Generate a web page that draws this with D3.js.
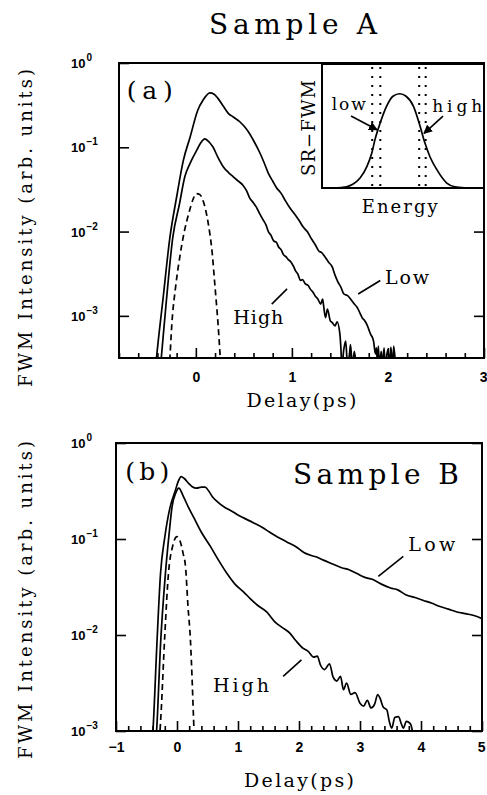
<!DOCTYPE html>
<html>
<head>
<meta charset="utf-8">
<script src="https://cdnjs.cloudflare.com/ajax/libs/d3/7.8.5/d3.min.js"></script>
<style>
  body { margin: 0; background: #fff; }
  svg { display: block; }
  .serif { font-family: "DejaVu Serif", "Liberation Serif", serif; fill: #000; }
  .sans { font-family: "Liberation Sans", Arial, sans-serif; fill: #000; font-weight: bold; }
</style>
</head>
<body>
<div id="root"></div>
<script>
// values: [delay (ps), log10 of FWM intensity]
const lowA = [[-0.45,-4.0],[-0.41,-3.5],[-0.34,-2.78],[-0.27,-2.07],[-0.20,-1.59],[-0.13,-1.155],[-0.06,-0.88],[0.02,-0.56],[0.076,-0.44],[0.146,-0.354],[0.19,-0.37],[0.23,-0.42],[0.29,-0.52],[0.34,-0.60],[0.39,-0.64],[0.46,-0.70],[0.51,-0.76],[0.56,-0.84],[0.61,-0.94],[0.66,-1.05],[0.71,-1.18],[0.755,-1.31],[0.80,-1.40],[0.84,-1.48],[0.89,-1.55],[0.93,-1.63],[0.98,-1.72],[1.02,-1.78],[1.07,-1.86],[1.12,-1.95],[1.16,-2.00],[1.20,-2.08],[1.24,-2.15],[1.28,-2.23],[1.31,-2.25],[1.35,-2.31],[1.38,-2.36],[1.42,-2.42],[1.45,-2.52],[1.48,-2.60],[1.51,-2.66],[1.54,-2.74],[1.58,-2.76],[1.61,-2.80],[1.65,-2.86],[1.68,-2.90],[1.71,-2.97],[1.73,-3.02],[1.76,-3.06],[1.78,-3.10],[1.80,-3.16],[1.82,-3.22],[1.84,-3.26],[1.85,-3.30],[1.87,-3.45],[1.88,-3.38],[1.89,-3.55],[1.90,-3.36],[1.91,-3.6],[1.93,-3.42],[1.94,-3.6],[1.96,-3.38],[1.97,-3.6],[1.99,-3.45],[2.00,-3.40],[2.02,-3.6],[2.03,-3.37],[2.05,-3.6],[2.06,-3.36],[2.08,-3.6]];
const highA = [[-0.40,-4.0],[-0.36,-3.5],[-0.31,-2.86],[-0.24,-2.07],[-0.17,-1.67],[-0.115,-1.35],[-0.06,-1.19],[0.007,-1.04],[0.05,-0.95],[0.094,-0.90],[0.14,-0.94],[0.18,-1.0],[0.23,-1.12],[0.285,-1.23],[0.34,-1.30],[0.39,-1.35],[0.44,-1.40],[0.49,-1.45],[0.53,-1.52],[0.56,-1.60],[0.60,-1.66],[0.63,-1.71],[0.67,-1.80],[0.70,-1.86],[0.73,-1.92],[0.755,-2.0],[0.78,-2.04],[0.81,-2.11],[0.84,-2.13],[0.86,-2.18],[0.89,-2.22],[0.91,-2.27],[0.94,-2.30],[0.96,-2.33],[0.99,-2.36],[1.02,-2.42],[1.04,-2.47],[1.06,-2.50],[1.09,-2.58],[1.11,-2.57],[1.14,-2.62],[1.17,-2.64],[1.19,-2.68],[1.22,-2.72],[1.24,-2.76],[1.27,-2.80],[1.30,-2.86],[1.32,-2.80],[1.33,-2.88],[1.35,-3.02],[1.37,-2.92],[1.40,-3.06],[1.42,-3.08],[1.45,-3.12],[1.47,-3.07],[1.50,-3.22],[1.51,-3.38],[1.52,-3.6],[1.54,-3.40],[1.56,-3.30],[1.58,-3.6],[1.60,-3.45],[1.61,-3.34],[1.63,-3.6],[1.65,-3.42],[1.67,-3.6]];
const pulseA = [[-0.30,-4.0],[-0.27,-3.5],[-0.25,-3.1],[-0.21,-2.65],[-0.167,-2.3],[-0.12,-2.0],[-0.07,-1.77],[-0.03,-1.62],[0.007,-1.55],[0.04,-1.56],[0.08,-1.65],[0.13,-1.91],[0.17,-2.25],[0.20,-2.66],[0.23,-3.08],[0.25,-3.42],[0.27,-3.8]];

const lowB = [[-0.43,-3.3],[-0.39,-2.95],[-0.33,-2.1],[-0.27,-1.36],[-0.2,-0.98],[-0.11,-0.66],[-0.03,-0.5],[0.02,-0.40],[0.07,-0.35],[0.12,-0.37],[0.19,-0.42],[0.25,-0.455],[0.32,-0.47],[0.40,-0.46],[0.46,-0.46],[0.52,-0.50],[0.58,-0.56],[0.66,-0.61],[0.78,-0.67],[0.90,-0.71],[1.0,-0.75],[1.09,-0.78],[1.25,-0.83],[1.40,-0.88],[1.52,-0.93],[1.64,-0.976],[1.80,-1.03],[1.95,-1.08],[2.08,-1.14],[2.19,-1.17],[2.30,-1.19],[2.40,-1.22],[2.55,-1.26],[2.70,-1.30],[2.82,-1.32],[2.95,-1.36],[3.08,-1.40],[3.20,-1.42],[3.35,-1.47],[3.50,-1.51],[3.62,-1.53],[3.75,-1.58],[3.90,-1.61],[4.04,-1.64],[4.18,-1.67],[4.30,-1.70],[4.45,-1.73],[4.59,-1.76],[4.75,-1.78],[4.88,-1.80],[5.0,-1.83]];
const highB = [[-0.37,-3.3],[-0.33,-2.95],[-0.27,-2.1],[-0.19,-1.36],[-0.13,-0.95],[-0.08,-0.66],[-0.02,-0.52],[0.03,-0.47],[0.10,-0.55],[0.18,-0.66],[0.27,-0.77],[0.40,-0.93],[0.55,-1.08],[0.68,-1.22],[0.82,-1.36],[0.95,-1.47],[1.09,-1.55],[1.20,-1.62],[1.32,-1.69],[1.47,-1.76],[1.60,-1.86],[1.72,-1.92],[1.85,-1.98],[1.95,-2.06],[2.07,-2.14],[2.15,-2.17],[2.24,-2.23],[2.30,-2.22],[2.35,-2.31],[2.42,-2.36],[2.50,-2.30],[2.56,-2.44],[2.62,-2.48],[2.68,-2.43],[2.73,-2.57],[2.78,-2.50],[2.85,-2.62],[2.92,-2.60],[3.00,-2.71],[3.06,-2.74],[3.12,-2.68],[3.18,-2.76],[3.24,-2.72],[3.29,-2.62],[3.33,-2.66],[3.38,-2.75],[3.44,-2.78],[3.48,-2.90],[3.52,-2.97],[3.57,-2.86],[3.63,-2.85],[3.68,-2.93],[3.71,-2.97],[3.76,-2.90],[3.82,-2.92],[3.87,-3.05],[3.90,-3.3]];
const pulseB = [[-0.31,-3.3],[-0.26,-2.8],[-0.20,-2.0],[-0.14,-1.36],[-0.07,-1.07],[0.0,-0.976],[0.05,-1.02],[0.10,-1.15],[0.14,-1.29],[0.18,-1.7],[0.22,-2.05],[0.25,-2.5],[0.27,-2.85],[0.30,-3.3]];

// inset: [energy (arb.), SR-FWM signal (arb.)]
const insetSpectrum = [[0,0],[8,0],[12,0.004],[15.2,0.01],[19,0.03],[23.5,0.08],[27.6,0.17],[30.7,0.28],[32.7,0.39],[35.8,0.52],[39.9,0.66],[43.8,0.74],[48,0.76],[51.9,0.74],[56.4,0.66],[60.5,0.50],[63.6,0.36],[66.7,0.25],[70.8,0.15],[77,0.04],[82,0.01],[88,0.002],[94,0],[100,0]];
const insetWindows = [31, 36, 60, 64];

const yTickExps = [0, -1, -2, -3];
const xTicksA = [0, 1, 2, 3];
const xTicksB = [-1, 0, 1, 2, 3, 4, 5];

const W = 487, H = 795;
const svg = d3.select('#root').append('svg').attr('width', W).attr('height', H);

// serif text with a fixed width, like the plotter lettering of the original
function label(sel, x, y, str, size, len, anchor) {
  return sel.append('text').attr('class', 'serif')
    .attr('x', x).attr('y', y)
    .attr('text-anchor', anchor || 'start')
    .attr('textLength', len).attr('lengthAdjust', 'spacing')
    .style('font-size', size + 'px')
    .text(str);
}

function drawPanel(p) {
  const x = d3.scaleLinear().domain(p.xDomain).range([p.left, p.right]);
  const y = d3.scaleLog().domain(p.yDomain).range([p.bottom, p.top]);
  const g = svg.append('g');

  g.append('clipPath').attr('id', 'clip-' + p.id)
    .append('rect')
    .attr('x', p.left).attr('y', p.top)
    .attr('width', p.right - p.left).attr('height', p.bottom - p.top);

  const line = d3.line()
    .x(d => x(d[0]))
    .y(d => y(Math.pow(10, d[1])))
    .curve(d3.curveMonotoneX);

  p.series.forEach(s => {
    g.append('path')
      .datum(s.data)
      .attr('clip-path', `url(#clip-${p.id})`)
      .attr('fill', 'none')
      .attr('stroke', '#000')
      .attr('stroke-width', 1.7)
      .attr('stroke-linejoin', 'round')
      .attr('stroke-dasharray', s.dashed ? '6,4' : null)
      .attr('d', line);
  });

  // ticks (pointing inwards)
  const minor = d3.range(p.xDomain[0], p.xDomain[1] + 0.001, 0.2).filter(v => Math.abs(v - Math.round(v)) > 0.01);
  g.append('g')
    .attr('transform', `translate(0,${p.bottom})`)
    .call(d3.axisBottom(x).tickValues(minor).tickSize(-5).tickFormat(''))
    .call(a => a.select('.domain').remove());
  const xa = g.append('g')
    .attr('transform', `translate(0,${p.bottom})`)
    .call(d3.axisBottom(x).tickValues(p.xTicks).tickSize(-10).tickPadding(p.xPad)
      .tickFormat(d => d < 0 ? '\u2212' + Math.abs(d) : d))
    .call(a => a.select('.domain').remove())
    .attr('font-family', '"Liberation Sans", Arial, sans-serif')
    .attr('font-weight', 'bold')
    .attr('font-size', 14);
  // keep the last label inside the page
  xa.selectAll('.tick text').filter(d => x(d) > W - 6)
    .attr('text-anchor', 'end').attr('x', 3);

  const yTicks = yTickExps.map(e => Math.pow(10, e)).filter(v => v >= p.yDomain[0]);
  g.append('g')
    .attr('transform', `translate(${p.left},0)`)
    .call(d3.axisLeft(y).tickValues(yTicks).tickSize(-10).tickFormat(''))
    .call(a => a.select('.domain').remove());
  g.append('g')
    .attr('transform', `translate(${p.right},0)`)
    .call(d3.axisRight(y).tickValues(yTicks).tickSize(-10).tickFormat(''))
    .call(a => a.select('.domain').remove());
  g.selectAll('.tick line').attr('stroke-width', 1.6);

  // 10^n labels
  yTickExps.filter(e => Math.pow(10, e) >= p.yDomain[0]).forEach(e => {
    const t = g.append('text').attr('class', 'sans')
      .attr('x', 71).attr('y', y(Math.pow(10, e)) + 5)
      .style('font-size', '13px');
    t.append('tspan').text('10');
    t.append('tspan').attr('dx', 1).attr('dy', -7).style('font-size', '10px')
      .text(e === 0 ? '0' : '\u2212' + Math.abs(e));
  });

  // frame
  g.append('rect')
    .attr('x', p.left).attr('y', p.top)
    .attr('width', p.right - p.left).attr('height', p.bottom - p.top)
    .attr('fill', 'none').attr('stroke', '#000').attr('stroke-width', 2);

  // axis titles
  label(g, (p.left + p.right) / 2, p.xTitleY, 'Delay(ps)', 19, 110, 'middle');
  label(g, 0, 0, 'FWM Intensity (arb. units)', 18, 318, 'middle')
    .attr('transform', `translate(32,${p.yTitleY}) rotate(-90)`);

  // in-plot annotations, placed in data units
  label(g, x(p.tag[0]), y(Math.pow(10, p.tag[1])), p.tag[2], 25, p.tag[3]);

  p.notes.forEach(n => {
    label(g, x(n.at[0]), y(Math.pow(10, n.at[1])), n.text, 19, n.len);
    g.append('line')
      .attr('x1', x(n.from[0])).attr('y1', y(Math.pow(10, n.from[1])))
      .attr('x2', x(n.to[0])).attr('y2', y(Math.pow(10, n.to[1])))
      .attr('stroke', '#000').attr('stroke-width', 1.6);
  });

  return { g, x, y };
}

const panelA = drawPanel({
  id: 'a', left: 119, right: 484, top: 63, bottom: 358,
  xDomain: [-0.8, 3], yDomain: [Math.pow(10, -3.5), 1],
  xTicks: xTicksA, xPad: 14, xTitleY: 407, yTitleY: 228,
  series: [{ data: lowA }, { data: highA }, { data: pulseA, dashed: true }],
  tag: [-0.72, -0.43, '(a)', 46],
  notes: [
    { text: 'High', len: 50, at: [0.39, -3.1], from: [0.79, -2.86], to: [0.95, -2.68] },
    { text: 'Low', len: 44, at: [1.97, -2.62], from: [1.69, -2.74], to: [1.92, -2.58] }
  ]
});

const panelB = drawPanel({
  id: 'b', left: 116, right: 482, top: 443, bottom: 731,
  xDomain: [-1, 5], yDomain: [1e-3, 1],
  xTicks: xTicksB, xPad: 11, xTitleY: 787, yTitleY: 600,
  series: [{ data: lowB }, { data: highB }, { data: pulseB, dashed: true }],
  tag: [-0.85, -0.385, '(b)', 44],
  notes: [
    { text: 'High', len: 56, at: [0.59, -2.59], from: [1.74, -2.43], to: [2.04, -2.26] },
    { text: 'Low', len: 47, at: [3.79, -1.125], from: [3.30, -1.39], to: [3.71, -1.18] }
  ]
});

label(panelB.g, panelB.x(1.9), panelB.y(Math.pow(10, -0.43)), 'Sample B', 28, 166);

label(svg, 293, 34, 'Sample A', 28, 168, 'middle');

// inset of panel (a)
const ix = d3.scaleLinear().domain([0, 100]).range([322, 484]);
const iy = d3.scaleLinear().domain([0, 1]).range([188, 64]);
const inset = svg.append('g');

inset.append('rect')
  .attr('x', ix(0)).attr('y', iy(1))
  .attr('width', ix(100) - ix(0)).attr('height', iy(0) - iy(1))
  .attr('fill', '#fff').attr('stroke', '#000').attr('stroke-width', 2);

inset.selectAll('line.win')
  .data(insetWindows)
  .enter()
  .append('line')
  .attr('class', 'win')
  .attr('x1', d => ix(d)).attr('x2', d => ix(d))
  .attr('y1', iy(1) + 3).attr('y2', iy(0))
  .attr('stroke', '#000').attr('stroke-width', 2)
  .attr('stroke-dasharray', '2,7');

inset.append('path')
  .datum(insetSpectrum)
  .attr('fill', 'none').attr('stroke', '#000').attr('stroke-width', 1.7)
  .attr('d', d3.line().x(d => ix(d[0])).y(d => iy(d[1])).curve(d3.curveMonotoneX));

svg.append('defs').append('marker')
  .attr('id', 'arrow')
  .attr('viewBox', '0 0 10 10')
  .attr('refX', 9).attr('refY', 5)
  .attr('markerWidth', 9).attr('markerHeight', 9)
  .attr('markerUnits', 'userSpaceOnUse')
  .attr('orient', 'auto')
  .append('path')
  .attr('d', 'M0,0 L10,5 L0,10 Z')
  .attr('fill', '#000');

const insetArrows = [
  { text: 'low', len: 34, at: [6, 0.63], from: [17.9, 0.58], to: [34, 0.47] },
  { text: 'high', len: 50, at: [68, 0.61], from: [74.7, 0.58], to: [63, 0.44] }
];
insetArrows.forEach(a => {
  label(inset, ix(a.at[0]), iy(a.at[1]), a.text, 17, a.len);
  inset.append('line')
    .attr('x1', ix(a.from[0])).attr('y1', iy(a.from[1]))
    .attr('x2', ix(a.to[0])).attr('y2', iy(a.to[1]))
    .attr('stroke', '#000').attr('stroke-width', 1.6)
    .attr('marker-end', 'url(#arrow)');
});

label(inset, 0, 0, 'SR\u2212FWM', 18, 96, 'middle')
  .attr('transform', `translate(315,${(iy(0) + iy(1)) / 2 + 2}) rotate(-90)`);

label(inset, ix(48), 213, 'Energy', 18, 76, 'middle');
</script>
</body>
</html>
